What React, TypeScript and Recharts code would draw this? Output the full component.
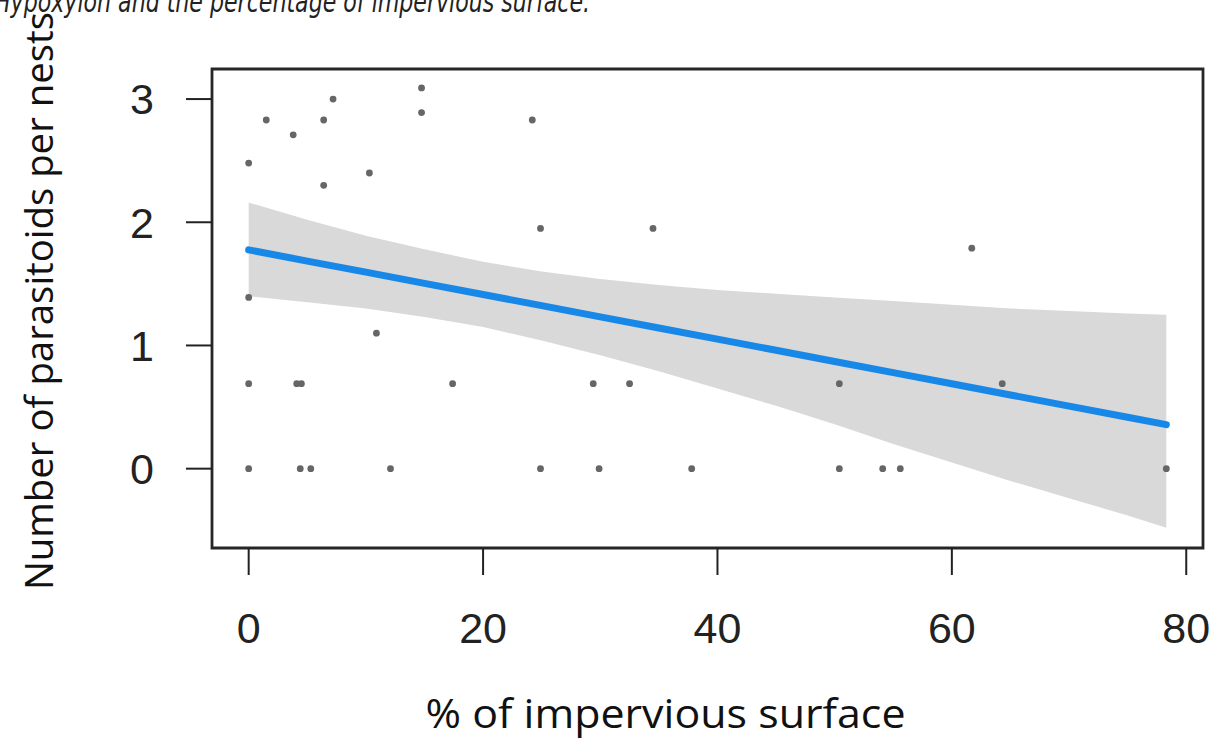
import React from "react";
import {
  ComposedChart,
  Area,
  Line,
  Scatter,
  XAxis,
  YAxis,
  ReferenceArea,
  Label,
} from "recharts";

// observed nests: % impervious surface vs log number of parasitoids
const pointX = [
  0, 4.4, 5.3, 12.1, 24.9, 29.9, 37.8, 50.4, 54.1, 55.6, 78.3,
  0, 4.1, 4.5, 17.4, 29.4, 32.5, 50.4, 64.3,
  10.9, 0, 61.7, 24.9, 34.5, 6.4, 10.3, 0, 3.8, 1.5, 6.4, 24.2, 14.75, 7.2, 14.75,
];
const pointY = [
  0, 0, 0, 0, 0, 0, 0, 0, 0, 0, 0,
  0.69, 0.69, 0.69, 0.69, 0.69, 0.69, 0.69, 0.69,
  1.1, 1.39, 1.79, 1.95, 1.95, 2.3, 2.4, 2.48, 2.71, 2.83, 2.83, 2.83, 2.89, 3.0, 3.09,
];

// fitted line and confidence band, read along x
const bandX = [0, 5, 10, 15, 20, 25, 30, 35, 40, 45, 50, 55, 60, 65, 70, 75, 78.3];
const fitY = [1.776, 1.685, 1.595, 1.504, 1.414, 1.323, 1.232, 1.142, 1.051, 0.961, 0.87, 0.779, 0.689, 0.598, 0.508, 0.417, 0.357];
const bandLow = [1.4, 1.35, 1.3, 1.23, 1.15, 1.04, 0.92, 0.79, 0.65, 0.51, 0.36, 0.2, 0.05, -0.1, -0.24, -0.38, -0.48];
const bandHigh = [2.16, 2.02, 1.89, 1.78, 1.68, 1.6, 1.54, 1.49, 1.45, 1.42, 1.39, 1.36, 1.33, 1.3, 1.28, 1.26, 1.25];

const xTicks = [0, 20, 40, 60, 80];
const yTicks = [0, 1, 2, 3];

const X_DOMAIN: [number, number] = [-3.13, 81.43];
const Y_DOMAIN: [number, number] = [-0.644, 3.244];

const bandData = bandX.map((x, i) => ({ x, fit: fitY[i], band: [bandLow[i], bandHigh[i]] }));
const scatterData = pointX.map((x, i) => ({ x, y: pointY[i] }));

const tickStyle = { fontSize: 43, fontFamily: "'Liberation Sans', Arial, sans-serif", fill: "#222" };
const titleFont = "'Open Sans', 'Noto Sans', sans-serif";

function XTitle(props: any) {
  const { x, width } = props.viewBox;
  return (
    <text
      x={x + width / 2 - 42}
      y={728}
      textAnchor="middle"
      fontSize={40}
      fontFamily={titleFont}
      fill="#111"
      textLength={480}
      lengthAdjust="spacingAndGlyphs"
    >
      % of impervious surface
    </text>
  );
}

function YTitle(props: any) {
  const { y, height } = props.viewBox;
  const cx = 53;
  const cy = y + height / 2 - 7.5;
  return (
    <text
      x={cx}
      y={cy}
      transform={`rotate(-90 ${cx} ${cy})`}
      textAnchor="middle"
      fontSize={39}
      fontFamily={titleFont}
      fill="#111"
      textLength={578}
      lengthAdjust="spacingAndGlyphs"
    >
      Number of parasitoids per nests
    </text>
  );
}

function Dot(props: any) {
  const { cx, cy } = props;
  return <circle cx={cx} cy={cy} r={3.4} fill="#666" />;
}

export default function App() {
  return (
    <div style={{ position: "absolute", left: 0, top: 0, width: 1218, height: 746, background: "#fff", overflow: "hidden" }}>
      <svg width={1218} height={30} style={{ position: "absolute", left: 0, top: 0 }}>
        <text
          x={-6}
          y={12}
          fontSize={30}
          fontStyle="italic"
          fontFamily="'DejaVu Sans', sans-serif"
          fill="#222"
          textLength={596}
          lengthAdjust="spacingAndGlyphs"
        >
          Hypoxylon and the percentage of impervious surface.
        </text>
      </svg>
      <ComposedChart width={1218} height={746} data={bandData} margin={{ top: 69, right: 15, left: 0, bottom: 0 }}>
        <XAxis
          type="number"
          dataKey="x"
          domain={X_DOMAIN}
          ticks={xTicks}
          allowDataOverflow
          axisLine={false}
          tickLine={{ stroke: "#222", strokeWidth: 2 }}
          tickSize={27}
          tickMargin={37}
          height={198}
          tick={tickStyle}
        >
          <Label content={XTitle} />
        </XAxis>
        <YAxis
          type="number"
          domain={Y_DOMAIN}
          ticks={yTicks}
          allowDataOverflow
          axisLine={false}
          tickLine={{ stroke: "#222", strokeWidth: 2 }}
          tickSize={26}
          tickMargin={32}
          width={212}
          tick={tickStyle}
        >
          <Label content={YTitle} />
        </YAxis>
        <Area
          type="linear"
          dataKey="band"
          fill="#d9d9d9"
          fillOpacity={1}
          stroke="none"
          isAnimationActive={false}
        />
        <Line
          type="linear"
          dataKey="fit"
          stroke="#1787e8"
          strokeWidth={7}
          strokeLinecap="round"
          dot={false}
          isAnimationActive={false}
        />
        <Scatter data={scatterData} dataKey="y" shape={Dot} isAnimationActive={false} />
        <ReferenceArea
          x1={X_DOMAIN[0]}
          x2={X_DOMAIN[1]}
          y1={Y_DOMAIN[0]}
          y2={Y_DOMAIN[1]}
          fill="none"
          stroke="#262626"
          strokeWidth={2.8}
        />
      </ComposedChart>
    </div>
  );
}
